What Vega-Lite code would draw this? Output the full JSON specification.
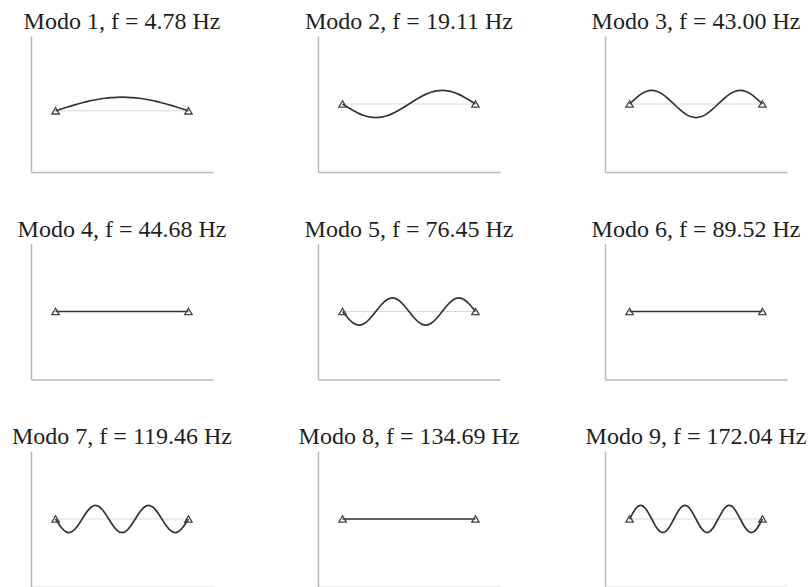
{
  "$schema": "https://vega.github.io/schema/vega-lite/v6.json",
  "background": "white",
  "padding": {"left": 12, "top": 10, "right": 0, "bottom": 0},
  "columns": 3,
  "bounds": "flush",
  "spacing": {"row": 71.5, "column": 105},
  "datasets": {
    "viga": [
      {"x": 0, "y": 0},
      {"x": 1, "y": 0}
    ],
    "modos": [
      {"modo": 1, "x": 0, "y": 0}, {"modo": 1, "x": 0.0417, "y": 0.1305}, {"modo": 1, "x": 0.0833, "y": 0.2588}, {"modo": 1, "x": 0.125, "y": 0.3827}, {"modo": 1, "x": 0.1667, "y": 0.5}, {"modo": 1, "x": 0.2083, "y": 0.6088}, {"modo": 1, "x": 0.25, "y": 0.7071}, {"modo": 1, "x": 0.2917, "y": 0.7934}, {"modo": 1, "x": 0.3333, "y": 0.866}, {"modo": 1, "x": 0.375, "y": 0.9239}, {"modo": 1, "x": 0.4167, "y": 0.9659}, {"modo": 1, "x": 0.4583, "y": 0.9914}, {"modo": 1, "x": 0.5, "y": 1}, {"modo": 1, "x": 0.5417, "y": 0.9914}, {"modo": 1, "x": 0.5833, "y": 0.9659}, {"modo": 1, "x": 0.625, "y": 0.9239}, {"modo": 1, "x": 0.6667, "y": 0.866}, {"modo": 1, "x": 0.7083, "y": 0.7934}, {"modo": 1, "x": 0.75, "y": 0.7071}, {"modo": 1, "x": 0.7917, "y": 0.6088}, {"modo": 1, "x": 0.8333, "y": 0.5}, {"modo": 1, "x": 0.875, "y": 0.3827}, {"modo": 1, "x": 0.9167, "y": 0.2588}, {"modo": 1, "x": 0.9583, "y": 0.1305}, {"modo": 1, "x": 1, "y": 0},

      {"modo": 2, "x": 0, "y": 0}, {"modo": 2, "x": 0.0417, "y": -0.2588}, {"modo": 2, "x": 0.0833, "y": -0.5}, {"modo": 2, "x": 0.125, "y": -0.7071}, {"modo": 2, "x": 0.1667, "y": -0.866}, {"modo": 2, "x": 0.2083, "y": -0.9659}, {"modo": 2, "x": 0.25, "y": -1}, {"modo": 2, "x": 0.2917, "y": -0.9659}, {"modo": 2, "x": 0.3333, "y": -0.866}, {"modo": 2, "x": 0.375, "y": -0.7071}, {"modo": 2, "x": 0.4167, "y": -0.5}, {"modo": 2, "x": 0.4583, "y": -0.2588}, {"modo": 2, "x": 0.5, "y": 0}, {"modo": 2, "x": 0.5417, "y": 0.2588}, {"modo": 2, "x": 0.5833, "y": 0.5}, {"modo": 2, "x": 0.625, "y": 0.7071}, {"modo": 2, "x": 0.6667, "y": 0.866}, {"modo": 2, "x": 0.7083, "y": 0.9659}, {"modo": 2, "x": 0.75, "y": 1}, {"modo": 2, "x": 0.7917, "y": 0.9659}, {"modo": 2, "x": 0.8333, "y": 0.866}, {"modo": 2, "x": 0.875, "y": 0.7071}, {"modo": 2, "x": 0.9167, "y": 0.5}, {"modo": 2, "x": 0.9583, "y": 0.2588}, {"modo": 2, "x": 1, "y": 0},

      {"modo": 3, "x": 0, "y": 0}, {"modo": 3, "x": 0.0417, "y": 0.3827}, {"modo": 3, "x": 0.0833, "y": 0.7071}, {"modo": 3, "x": 0.125, "y": 0.9239}, {"modo": 3, "x": 0.1667, "y": 1}, {"modo": 3, "x": 0.2083, "y": 0.9239}, {"modo": 3, "x": 0.25, "y": 0.7071}, {"modo": 3, "x": 0.2917, "y": 0.3827}, {"modo": 3, "x": 0.3333, "y": 0}, {"modo": 3, "x": 0.375, "y": -0.3827}, {"modo": 3, "x": 0.4167, "y": -0.7071}, {"modo": 3, "x": 0.4583, "y": -0.9239}, {"modo": 3, "x": 0.5, "y": -1}, {"modo": 3, "x": 0.5417, "y": -0.9239}, {"modo": 3, "x": 0.5833, "y": -0.7071}, {"modo": 3, "x": 0.625, "y": -0.3827}, {"modo": 3, "x": 0.6667, "y": 0}, {"modo": 3, "x": 0.7083, "y": 0.3827}, {"modo": 3, "x": 0.75, "y": 0.7071}, {"modo": 3, "x": 0.7917, "y": 0.9239}, {"modo": 3, "x": 0.8333, "y": 1}, {"modo": 3, "x": 0.875, "y": 0.9239}, {"modo": 3, "x": 0.9167, "y": 0.7071}, {"modo": 3, "x": 0.9583, "y": 0.3827}, {"modo": 3, "x": 1, "y": 0},

      {"modo": 4, "x": 0, "y": 0}, {"modo": 4, "x": 1, "y": 0},

      {"modo": 5, "x": 0, "y": 0}, {"modo": 5, "x": 0.0417, "y": -0.5}, {"modo": 5, "x": 0.0833, "y": -0.866}, {"modo": 5, "x": 0.125, "y": -1}, {"modo": 5, "x": 0.1667, "y": -0.866}, {"modo": 5, "x": 0.2083, "y": -0.5}, {"modo": 5, "x": 0.25, "y": 0}, {"modo": 5, "x": 0.2917, "y": 0.5}, {"modo": 5, "x": 0.3333, "y": 0.866}, {"modo": 5, "x": 0.375, "y": 1}, {"modo": 5, "x": 0.4167, "y": 0.866}, {"modo": 5, "x": 0.4583, "y": 0.5}, {"modo": 5, "x": 0.5, "y": 0}, {"modo": 5, "x": 0.5417, "y": -0.5}, {"modo": 5, "x": 0.5833, "y": -0.866}, {"modo": 5, "x": 0.625, "y": -1}, {"modo": 5, "x": 0.6667, "y": -0.866}, {"modo": 5, "x": 0.7083, "y": -0.5}, {"modo": 5, "x": 0.75, "y": 0}, {"modo": 5, "x": 0.7917, "y": 0.5}, {"modo": 5, "x": 0.8333, "y": 0.866}, {"modo": 5, "x": 0.875, "y": 1}, {"modo": 5, "x": 0.9167, "y": 0.866}, {"modo": 5, "x": 0.9583, "y": 0.5}, {"modo": 5, "x": 1, "y": 0},

      {"modo": 6, "x": 0, "y": 0}, {"modo": 6, "x": 1, "y": 0},

      {"modo": 7, "x": 0, "y": 0}, {"modo": 7, "x": 0.0417, "y": -0.6088}, {"modo": 7, "x": 0.0833, "y": -0.9659}, {"modo": 7, "x": 0.125, "y": -0.9239}, {"modo": 7, "x": 0.1667, "y": -0.5}, {"modo": 7, "x": 0.2083, "y": 0.1305}, {"modo": 7, "x": 0.25, "y": 0.7071}, {"modo": 7, "x": 0.2917, "y": 0.9914}, {"modo": 7, "x": 0.3333, "y": 0.866}, {"modo": 7, "x": 0.375, "y": 0.3827}, {"modo": 7, "x": 0.4167, "y": -0.2588}, {"modo": 7, "x": 0.4583, "y": -0.7934}, {"modo": 7, "x": 0.5, "y": -1}, {"modo": 7, "x": 0.5417, "y": -0.7934}, {"modo": 7, "x": 0.5833, "y": -0.2588}, {"modo": 7, "x": 0.625, "y": 0.3827}, {"modo": 7, "x": 0.6667, "y": 0.866}, {"modo": 7, "x": 0.7083, "y": 0.9914}, {"modo": 7, "x": 0.75, "y": 0.7071}, {"modo": 7, "x": 0.7917, "y": 0.1305}, {"modo": 7, "x": 0.8333, "y": -0.5}, {"modo": 7, "x": 0.875, "y": -0.9239}, {"modo": 7, "x": 0.9167, "y": -0.9659}, {"modo": 7, "x": 0.9583, "y": -0.6088}, {"modo": 7, "x": 1, "y": 0},

      {"modo": 8, "x": 0, "y": 0}, {"modo": 8, "x": 1, "y": 0},

      {"modo": 9, "x": 0, "y": 0}, {"modo": 9, "x": 0.0417, "y": 0.7071}, {"modo": 9, "x": 0.0833, "y": 1}, {"modo": 9, "x": 0.125, "y": 0.7071}, {"modo": 9, "x": 0.1667, "y": 0}, {"modo": 9, "x": 0.2083, "y": -0.7071}, {"modo": 9, "x": 0.25, "y": -1}, {"modo": 9, "x": 0.2917, "y": -0.7071}, {"modo": 9, "x": 0.3333, "y": 0}, {"modo": 9, "x": 0.375, "y": 0.7071}, {"modo": 9, "x": 0.4167, "y": 1}, {"modo": 9, "x": 0.4583, "y": 0.7071}, {"modo": 9, "x": 0.5, "y": 0}, {"modo": 9, "x": 0.5417, "y": -0.7071}, {"modo": 9, "x": 0.5833, "y": -1}, {"modo": 9, "x": 0.625, "y": -0.7071}, {"modo": 9, "x": 0.6667, "y": 0}, {"modo": 9, "x": 0.7083, "y": 0.7071}, {"modo": 9, "x": 0.75, "y": 1}, {"modo": 9, "x": 0.7917, "y": 0.7071}, {"modo": 9, "x": 0.8333, "y": 0}, {"modo": 9, "x": 0.875, "y": -0.7071}, {"modo": 9, "x": 0.9167, "y": -1}, {"modo": 9, "x": 0.9583, "y": -0.7071}, {"modo": 9, "x": 1, "y": 0}
    ]
  },
  "concat": [
    {
      "title": "Modo 1, f = 4.78 Hz",
      "width": 182, "height": 136,
      "encoding": {
        "x": {"field": "x", "type": "quantitative", "scale": {"domain": [-0.185, 1.185], "nice": false, "zero": false}, "axis": {"title": null}},
        "y": {"field": "y", "type": "quantitative", "scale": {"domain": [-4.5, 5.5], "nice": false, "zero": false}, "axis": {"title": null}}
      },
      "layer": [
        {"data": {"name": "viga"}, "mark": {"type": "line", "color": "#d9d9d9", "strokeWidth": 1}, "encoding": {}},
        {"data": {"name": "modos"}, "transform": [{"filter": "datum.modo == 1"}], "mark": {"type": "line", "color": "#333333", "strokeWidth": 1.7, "interpolate": "natural"}, "encoding": {}},
        {"data": {"name": "viga"}, "mark": {"type": "point", "shape": "triangle-up", "filled": false, "color": "#444444", "size": 55, "strokeWidth": 1.3, "opacity": 1}}
      ]
    },
    {
      "title": "Modo 2, f = 19.11 Hz",
      "width": 182, "height": 136,
      "encoding": {
        "x": {"field": "x", "type": "quantitative", "scale": {"domain": [-0.185, 1.185], "nice": false, "zero": false}, "axis": {"title": null}},
        "y": {"field": "y", "type": "quantitative", "scale": {"domain": [-5, 5], "nice": false, "zero": false}, "axis": {"title": null}}
      },
      "layer": [
        {"data": {"name": "viga"}, "mark": {"type": "line", "color": "#d9d9d9", "strokeWidth": 1}, "encoding": {}},
        {"data": {"name": "modos"}, "transform": [{"filter": "datum.modo == 2"}], "mark": {"type": "line", "color": "#333333", "strokeWidth": 1.7, "interpolate": "natural"}, "encoding": {}},
        {"data": {"name": "viga"}, "mark": {"type": "point", "shape": "triangle-up", "filled": false, "color": "#444444", "size": 55, "strokeWidth": 1.3, "opacity": 1}}
      ]
    },
    {
      "title": "Modo 3, f = 43.00 Hz",
      "width": 182, "height": 136,
      "encoding": {
        "x": {"field": "x", "type": "quantitative", "scale": {"domain": [-0.185, 1.185], "nice": false, "zero": false}, "axis": {"title": null}},
        "y": {"field": "y", "type": "quantitative", "scale": {"domain": [-5, 5], "nice": false, "zero": false}, "axis": {"title": null}}
      },
      "layer": [
        {"data": {"name": "viga"}, "mark": {"type": "line", "color": "#d9d9d9", "strokeWidth": 1}, "encoding": {}},
        {"data": {"name": "modos"}, "transform": [{"filter": "datum.modo == 3"}], "mark": {"type": "line", "color": "#333333", "strokeWidth": 1.7, "interpolate": "natural"}, "encoding": {}},
        {"data": {"name": "viga"}, "mark": {"type": "point", "shape": "triangle-up", "filled": false, "color": "#444444", "size": 55, "strokeWidth": 1.3, "opacity": 1}}
      ]
    },
    {
      "title": "Modo 4, f = 44.68 Hz",
      "width": 182, "height": 136,
      "encoding": {
        "x": {"field": "x", "type": "quantitative", "scale": {"domain": [-0.185, 1.185], "nice": false, "zero": false}, "axis": {"title": null}},
        "y": {"field": "y", "type": "quantitative", "scale": {"domain": [-5, 5], "nice": false, "zero": false}, "axis": {"title": null}}
      },
      "layer": [
        {"data": {"name": "viga"}, "mark": {"type": "line", "color": "#d9d9d9", "strokeWidth": 1}, "encoding": {}},
        {"data": {"name": "modos"}, "transform": [{"filter": "datum.modo == 4"}], "mark": {"type": "line", "color": "#333333", "strokeWidth": 1.7, "interpolate": "natural"}, "encoding": {}},
        {"data": {"name": "viga"}, "mark": {"type": "point", "shape": "triangle-up", "filled": false, "color": "#444444", "size": 55, "strokeWidth": 1.3, "opacity": 1}}
      ]
    },
    {
      "title": "Modo 5, f = 76.45 Hz",
      "width": 182, "height": 136,
      "encoding": {
        "x": {"field": "x", "type": "quantitative", "scale": {"domain": [-0.185, 1.185], "nice": false, "zero": false}, "axis": {"title": null}},
        "y": {"field": "y", "type": "quantitative", "scale": {"domain": [-5, 5], "nice": false, "zero": false}, "axis": {"title": null}}
      },
      "layer": [
        {"data": {"name": "viga"}, "mark": {"type": "line", "color": "#d9d9d9", "strokeWidth": 1}, "encoding": {}},
        {"data": {"name": "modos"}, "transform": [{"filter": "datum.modo == 5"}], "mark": {"type": "line", "color": "#333333", "strokeWidth": 1.7, "interpolate": "natural"}, "encoding": {}},
        {"data": {"name": "viga"}, "mark": {"type": "point", "shape": "triangle-up", "filled": false, "color": "#444444", "size": 55, "strokeWidth": 1.3, "opacity": 1}}
      ]
    },
    {
      "title": "Modo 6, f = 89.52 Hz",
      "width": 182, "height": 136,
      "encoding": {
        "x": {"field": "x", "type": "quantitative", "scale": {"domain": [-0.185, 1.185], "nice": false, "zero": false}, "axis": {"title": null}},
        "y": {"field": "y", "type": "quantitative", "scale": {"domain": [-5, 5], "nice": false, "zero": false}, "axis": {"title": null}}
      },
      "layer": [
        {"data": {"name": "viga"}, "mark": {"type": "line", "color": "#d9d9d9", "strokeWidth": 1}, "encoding": {}},
        {"data": {"name": "modos"}, "transform": [{"filter": "datum.modo == 6"}], "mark": {"type": "line", "color": "#333333", "strokeWidth": 1.7, "interpolate": "natural"}, "encoding": {}},
        {"data": {"name": "viga"}, "mark": {"type": "point", "shape": "triangle-up", "filled": false, "color": "#444444", "size": 55, "strokeWidth": 1.3, "opacity": 1}}
      ]
    },
    {
      "title": "Modo 7, f = 119.46 Hz",
      "width": 182, "height": 136,
      "encoding": {
        "x": {"field": "x", "type": "quantitative", "scale": {"domain": [-0.185, 1.185], "nice": false, "zero": false}, "axis": {"title": null}},
        "y": {"field": "y", "type": "quantitative", "scale": {"domain": [-5, 5], "nice": false, "zero": false}, "axis": {"title": null}}
      },
      "layer": [
        {"data": {"name": "viga"}, "mark": {"type": "line", "color": "#d9d9d9", "strokeWidth": 1}, "encoding": {}},
        {"data": {"name": "modos"}, "transform": [{"filter": "datum.modo == 7"}], "mark": {"type": "line", "color": "#333333", "strokeWidth": 1.7, "interpolate": "natural"}, "encoding": {}},
        {"data": {"name": "viga"}, "mark": {"type": "point", "shape": "triangle-up", "filled": false, "color": "#444444", "size": 55, "strokeWidth": 1.3, "opacity": 1}}
      ]
    },
    {
      "title": "Modo 8, f = 134.69 Hz",
      "width": 182, "height": 136,
      "encoding": {
        "x": {"field": "x", "type": "quantitative", "scale": {"domain": [-0.185, 1.185], "nice": false, "zero": false}, "axis": {"title": null}},
        "y": {"field": "y", "type": "quantitative", "scale": {"domain": [-5, 5], "nice": false, "zero": false}, "axis": {"title": null}}
      },
      "layer": [
        {"data": {"name": "viga"}, "mark": {"type": "line", "color": "#d9d9d9", "strokeWidth": 1}, "encoding": {}},
        {"data": {"name": "modos"}, "transform": [{"filter": "datum.modo == 8"}], "mark": {"type": "line", "color": "#333333", "strokeWidth": 1.7, "interpolate": "natural"}, "encoding": {}},
        {"data": {"name": "viga"}, "mark": {"type": "point", "shape": "triangle-up", "filled": false, "color": "#444444", "size": 55, "strokeWidth": 1.3, "opacity": 1}}
      ]
    },
    {
      "title": "Modo 9, f = 172.04 Hz",
      "width": 182, "height": 136,
      "encoding": {
        "x": {"field": "x", "type": "quantitative", "scale": {"domain": [-0.185, 1.185], "nice": false, "zero": false}, "axis": {"title": null}},
        "y": {"field": "y", "type": "quantitative", "scale": {"domain": [-5, 5], "nice": false, "zero": false}, "axis": {"title": null}}
      },
      "layer": [
        {"data": {"name": "viga"}, "mark": {"type": "line", "color": "#d9d9d9", "strokeWidth": 1}, "encoding": {}},
        {"data": {"name": "modos"}, "transform": [{"filter": "datum.modo == 9"}], "mark": {"type": "line", "color": "#333333", "strokeWidth": 1.7, "interpolate": "natural"}, "encoding": {}},
        {"data": {"name": "viga"}, "mark": {"type": "point", "shape": "triangle-up", "filled": false, "color": "#444444", "size": 55, "strokeWidth": 1.3, "opacity": 1}}
      ]
    }
  ],
  "config": {
    "view": {"stroke": null},
    "axis": {"labels": false, "ticks": false, "grid": false, "domainColor": "#b8b8b8", "domainWidth": 1.5},
    "title": {"font": "Liberation Serif", "fontSize": 24, "fontWeight": "normal", "color": "#1e1e1e", "anchor": "middle", "frame": "group", "baseline": "alphabetic", "offset": 2}
  }
}
